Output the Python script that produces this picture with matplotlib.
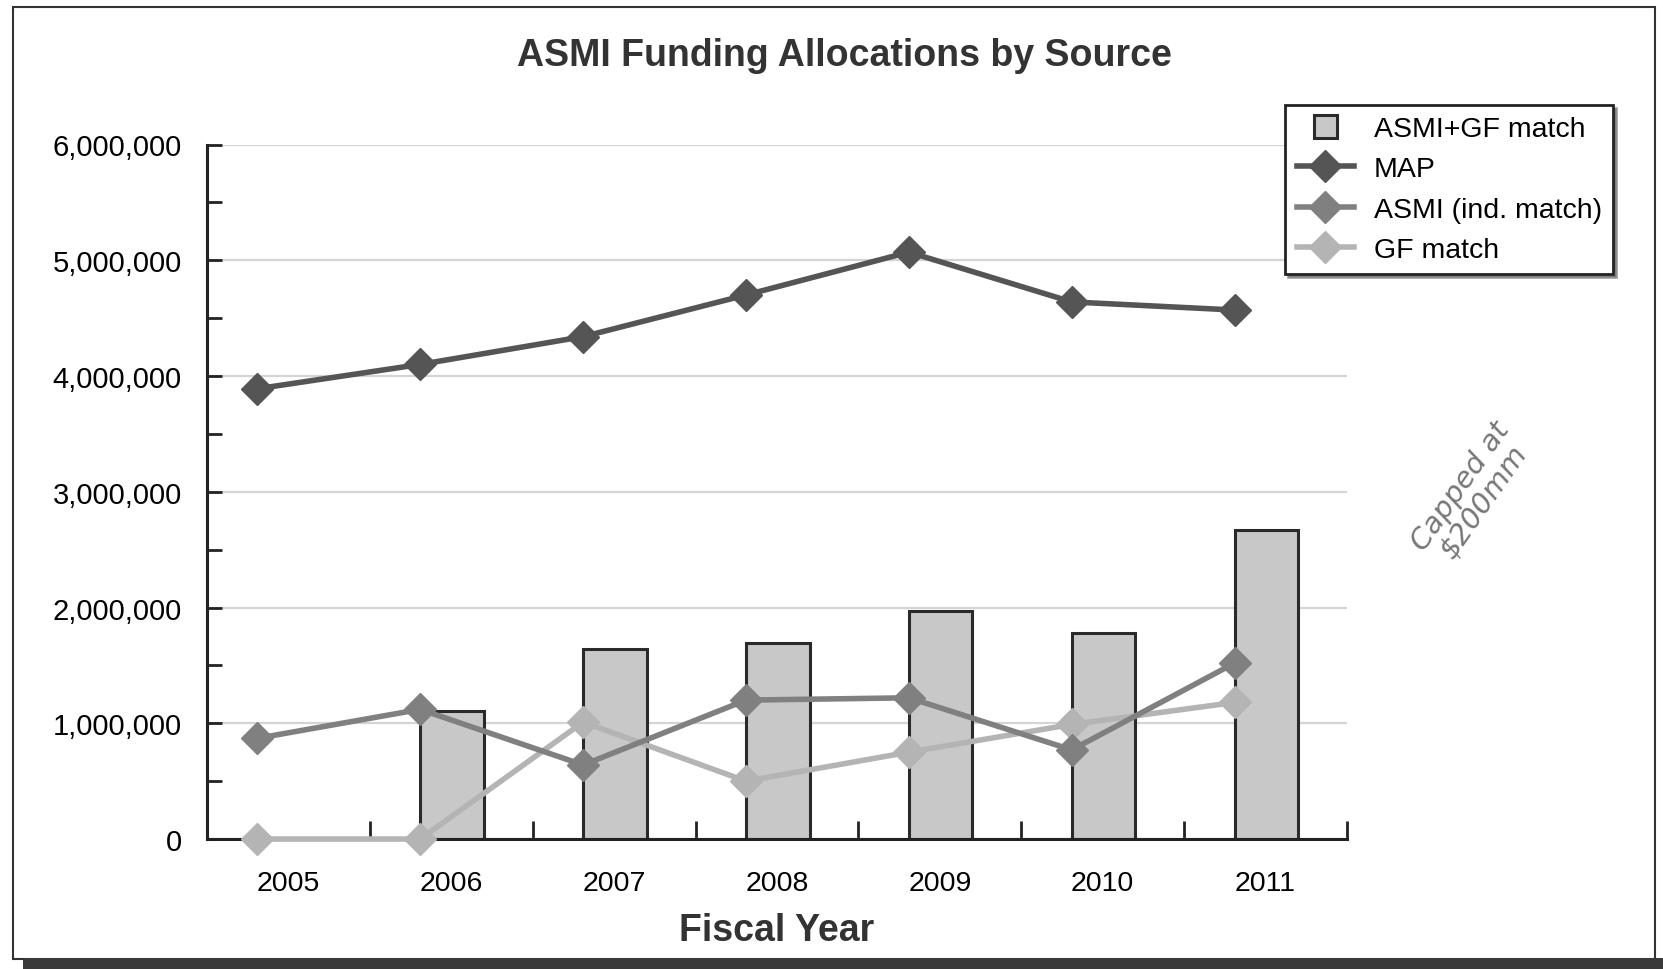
import matplotlib.pyplot as plt
import numpy as np
from matplotlib.legend_handler import HandlerPatch
from matplotlib.patches import Rectangle
from matplotlib.ticker import FuncFormatter, MultipleLocator

years = ["2005", "2006", "2007", "2008", "2009", "2010", "2011"]
asmi_gf_match = [0, 1110000, 1640000, 1690000, 1970000, 1780000, 2670000]
map_funds = [3890000, 4100000, 4340000, 4700000, 5070000, 4640000, 4570000]
asmi_ind_match = [870000, 1120000, 640000, 1200000, 1220000, 770000, 1520000]
gf_match = [0, 0, 1010000, 500000, 750000, 990000, 1180000]
legend_labels = ["ASMI+GF match", "MAP", "ASMI (ind. match)", "GF match"]

plt.rcParams.update({
    "font.family": ["Liberation Sans", "DejaVu Sans"],
    "font.size": 20,
})


def square_patch(legend, orig_handle, xdescent, ydescent, width, height, fontsize):
    side = height * 1.15
    return Rectangle((width / 2 - side / 2 - xdescent, height / 2 - side / 2 - ydescent), side, side)


fig = plt.figure(figsize=(16.63, 9.70), dpi=100)
ax = fig.add_axes([0.1244, 0.134, 0.6856, 0.716])

x = np.arange(len(years))
offset = -0.19

bars = ax.bar(x + offset, asmi_gf_match, width=0.39, align="edge", color="#c8c8c8",
              edgecolor="#2a2a2a", linewidth=2.2, zorder=2)
l1, = ax.plot(x + offset, map_funds, color="#555555", lw=4, marker="D", ms=16, zorder=4)
l2, = ax.plot(x + offset, asmi_ind_match, color="#808080", lw=4, marker="D", ms=16, zorder=4)
l3, = ax.plot(x + offset, gf_match, color="#b4b4b4", lw=4, marker="D", ms=16, zorder=3,
              clip_on=False)

ax.set_xlim(-0.5, 6.5)
ax.set_ylim(0, 6000000)
ax.set_xticks(x)
ax.set_xticklabels(years)
ax.xaxis.set_minor_locator(MultipleLocator(1, offset=0.5))
ax.yaxis.set_major_locator(MultipleLocator(1000000))
ax.yaxis.set_minor_locator(MultipleLocator(500000))
ax.yaxis.set_major_formatter(FuncFormatter(lambda v, _: f"{int(v):,}"))

ax.tick_params(axis="x", which="major", length=0, pad=22, labelsize=20.5)
ax.tick_params(axis="x", which="minor", direction="in", length=13, width=2, color="#222222")
ax.tick_params(axis="y", which="both", direction="in", width=2, color="#222222", labelsize=21, pad=18)
ax.tick_params(axis="y", which="major", length=11)
ax.tick_params(axis="y", which="minor", length=11)

for s in ["top", "right"]:
    ax.spines[s].set_visible(False)
for s in ["left", "bottom"]:
    ax.spines[s].set_linewidth(2.2)
    ax.spines[s].set_color("#222222")

ax.yaxis.grid(True, which="major", color="#d4d4d4", lw=1.6, zorder=0)
ax.set_axisbelow(True)

ax.set_xlabel("Fiscal Year", fontsize=27, fontweight="bold", color="#333333", labelpad=12)
fig.text(0.508, 0.942, "ASMI Funding Allocations by Source", ha="center", va="center",
         fontsize=27, fontweight="bold", color="#333333")

bar_handle = bars.patches[1]
leg = fig.legend(handles=[bar_handle, l1, l2, l3], labels=legend_labels,
                 loc="upper left", bbox_to_anchor=(0.773, 0.891),
                 fontsize=20.5, frameon=True, fancybox=False, shadow=True, edgecolor="#222222",
                 borderpad=0.4, labelspacing=0.5, handlelength=2.0, handletextpad=0.7,
                 borderaxespad=0, handler_map={bar_handle: HandlerPatch(patch_func=square_patch)})
leg.get_frame().set_linewidth(2)

# handwritten note beside the chart
fig.text(0.885, 0.49, "Capped at\n$200mm", rotation=55, ha="center", va="center",
         fontsize=21, style="italic", color="#777777", linespacing=1.0,
         family="DejaVu Sans", fontweight="light")

# page frame and bottom shadow
fig.add_artist(Rectangle((0.008, 0.01), 0.987, 0.982, transform=fig.transFigure,
                         fill=False, lw=1.5, edgecolor="#333333"))
fig.add_artist(Rectangle((0.014, 0.0), 0.986, 0.011, transform=fig.transFigure,
                         color="#3a3a3a", lw=0))

fig.savefig("out.png", dpi=100)
